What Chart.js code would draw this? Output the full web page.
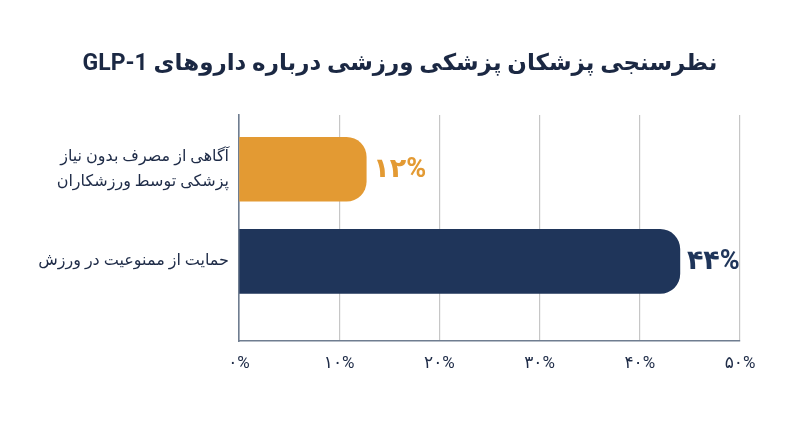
<!DOCTYPE html>
<html lang="fa">
<head>
<meta charset="utf-8">
<title>GLP-1 survey</title>
<script src="https://cdn.jsdelivr.net/npm/chart.js@4/dist/chart.umd.min.js"></script>
<style>
  html, body { margin: 0; padding: 0; background: #fff; }
  #wrap { width: 800px; height: 447px; position: relative; }
</style>
</head>
<body>
<div id="wrap"><canvas id="chart" dir="rtl"></canvas></div>
<script>
// ---- Data ----
const chartTitle = "نظرسنجی پزشکان پزشکی ورزشی درباره داروهای GLP-1";
const categories = [
  ["آگاهی از مصرف بدون نیاز", "پزشکی توسط ورزشکاران"],
  ["حمایت از ممنوعیت در ورزش"],
];
const values = [12.7, 44];
const valueLabels = ["۱۲%", "۴۴%"];
const xTickLabels = ["۰%", "۱۰%", "۲۰%", "۳۰%", "۴۰%", "۵۰%"];
const barColors = ["#E39A33", "#1F355A"];

const FONT = "Roboto, 'DejaVu Sans', sans-serif";
const TEXT = "#1E2B47";
// y is a linear index axis so the two bars sit where they do in the original
const Y_MIN = -0.588, Y_MAX = 1.863;

// title centred on the whole canvas, not on the padded box
const pageTitle = {
  id: "pageTitle",
  afterDraw(chart) {
    const { ctx, width } = chart;
    ctx.save();
    ctx.font = `bold 23px ${FONT}`;
    ctx.fillStyle = "#1B2843";
    ctx.textAlign = "center";
    ctx.textBaseline = "alphabetic";
    ctx.fillText(chartTitle, width / 2, 70);
    ctx.restore();
  },
};

// value labels just past the end of each bar
const endLabels = {
  id: "endLabels",
  afterDatasetsDraw(chart) {
    const { ctx } = chart;
    const meta = chart.getDatasetMeta(0);
    ctx.save();
    ctx.font = `bold 27px ${FONT}`;
    ctx.textAlign = "left";
    ctx.textBaseline = "middle";
    meta.data.forEach((bar, i) => {
      ctx.fillStyle = barColors[i];
      ctx.fillText(valueLabels[i], bar.x + 7, bar.y + 1);
    });
    ctx.restore();
  },
};

new Chart(document.getElementById("chart"), {
  type: "bar",
  data: {
    datasets: [{
      data: categories.map((c, i) => ({ x: values[i], y: i })),
      backgroundColor: barColors,
      barThickness: 64,
      borderRadius: 20,
      borderSkipped: "start",
    }],
  },
  options: {
    indexAxis: "y",
    responsive: true,
    maintainAspectRatio: false,
    animation: false,
    layout: { padding: { top: 115, left: 0, right: 60, bottom: 0 } },
    plugins: {
      legend: { display: false },
      tooltip: { enabled: false },
      title: { display: false },
    },
    scales: {
      x: {
        min: 0,
        max: 50,
        ticks: {
          stepSize: 10,
          padding: 13,
          color: TEXT,
          font: { family: FONT, size: 17 },
          callback: (v, i) => xTickLabels[i],
        },
        grid: { color: "#C6C6C6", lineWidth: 1.2, drawTicks: false },
        border: { color: "#6F7D90", width: 1.6 },
        afterFit: (s) => { s.height = 106; },
      },
      y: {
        type: "linear",
        reverse: true,
        offset: false,
        bounds: "data",
        min: Y_MIN,
        max: Y_MAX,
        afterDataLimits: (s) => { s.min = Y_MIN; s.max = Y_MAX; },
        afterBuildTicks: (s) => { s.ticks = categories.map((c, i) => ({ value: i })); },
        ticks: {
          padding: 10,
          color: TEXT,
          font: { family: FONT, size: 16, lineHeight: 1.5625 },
          callback: (v) => categories[v],
        },
        grid: { display: false, drawTicks: false, offset: false },
        border: { color: "#6F7D90", width: 1.6 },
        afterFit: (s) => { s.width = 239; },
      },
    },
  },
  plugins: [endLabels, pageTitle],
});
</script>
</body>
</html>
